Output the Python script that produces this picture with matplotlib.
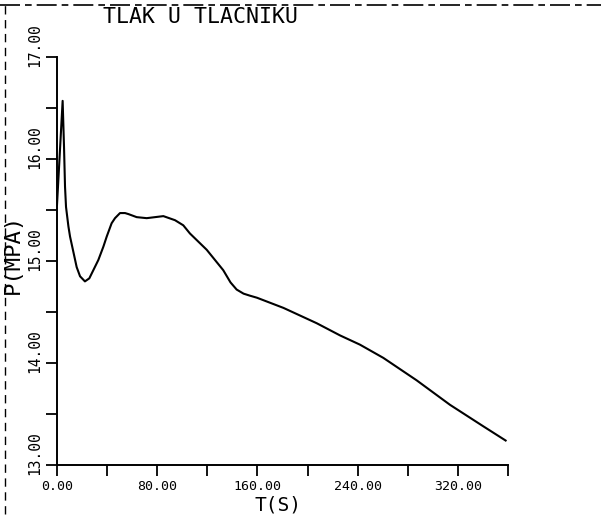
import numpy as np
import matplotlib.pyplot as plt
from matplotlib.lines import Line2D
from matplotlib.transforms import ScaledTranslation

# values
t = [0, 4.5, 5.6, 6.4, 7.2, 9.1, 10.4, 15.7, 18.4, 22.3, 25.8, 29, 33, 37,
     39.7, 43.6, 46.3, 50.3, 54.3, 57, 63.6, 71.6, 84.9, 94.2, 100.8, 106.1,
     112.8, 119.5, 126.1, 132.7, 138.5, 143.4, 148.9, 154, 159.6, 180.8,
     207.3, 226, 241.8, 260.5, 287.1, 313.7, 340.2, 358.1]
p = [15.55, 16.57, 16.12, 15.73, 15.53, 15.34, 15.24, 14.94, 14.85, 14.80,
     14.83, 14.91, 15.01, 15.14, 15.24, 15.37, 15.42, 15.47, 15.47, 15.46,
     15.43, 15.42, 15.44, 15.40, 15.35, 15.27, 15.19, 15.11, 15.01, 14.91,
     14.79, 14.72, 14.68, 14.66, 14.64, 14.54, 14.39, 14.27, 14.18, 14.05,
     13.83, 13.59, 13.38, 13.24]

xticks = np.arange(0, 361, 40)
yticks = np.arange(13, 17.01, 0.5)

mono = 'DejaVu Sans Mono'

fig = plt.figure(figsize=(6.01, 5.24), dpi=100)
ax = fig.add_axes([57 / 601, 1 - 465 / 524, 451 / 601, 408 / 524])

ax.plot(t, p, color='black', linewidth=1.5, solid_joinstyle='round')

ax.set_xlim(0, 360)
ax.set_ylim(13, 17)
ax.spines['top'].set_visible(False)
ax.spines['right'].set_visible(False)
for s in ['left', 'bottom']:
    ax.spines[s].set_linewidth(1.4)

ax.set_xticks(xticks)
ax.set_xticklabels(['%.2f' % v if v % 80 == 0 else '' for v in xticks],
                   fontfamily=mono, fontsize=9.5)
ax.set_yticks(yticks)
ax.set_yticklabels(['%.2f' % v if v % 1 == 0 else '' for v in yticks],
                   fontfamily=mono, fontsize=10.5, rotation=90, va='center')
ax.tick_params(axis='x', direction='out', length=8, width=1.3, pad=2.5)
ax.tick_params(axis='y', direction='out', length=8, width=1.3, pad=3)

shift = ScaledTranslation(0, 0.12, fig.dpi_scale_trans)
for lab in ax.get_yticklabels():
    lab.set_transform(lab.get_transform() + shift)

ax.set_xlabel('T(S)', fontfamily=mono, fontsize=14)
ax.xaxis.set_label_coords((278 - 57) / 451, -(505 - 465) / 408)
ax.xaxis.label.set_va('center')
ax.set_ylabel('P(MPA)', fontfamily=mono, fontsize=16)
ax.yaxis.set_label_coords((13 - 57) / 451, (465 - 254) / 408)
ax.yaxis.label.set_va('center')

fig.text(103 / 601, 1 - 17 / 524, 'TLAK U TLACNIKU', fontfamily=mono,
         fontsize=15.5, ha='left', va='center')

# edge of the scanned sheet
fig.add_artist(Line2D([0, 1], [1 - 5 / 524, 1 - 5 / 524], color='black',
                      linewidth=1.2, linestyle=(0, (12, 3, 4, 3))))
fig.add_artist(Line2D([5 / 601, 5 / 601], [0.02, 1 - 5 / 524], color='black',
                      linewidth=1.0, linestyle=(0, (6, 4))))

fig.savefig('out.png', dpi=100)
